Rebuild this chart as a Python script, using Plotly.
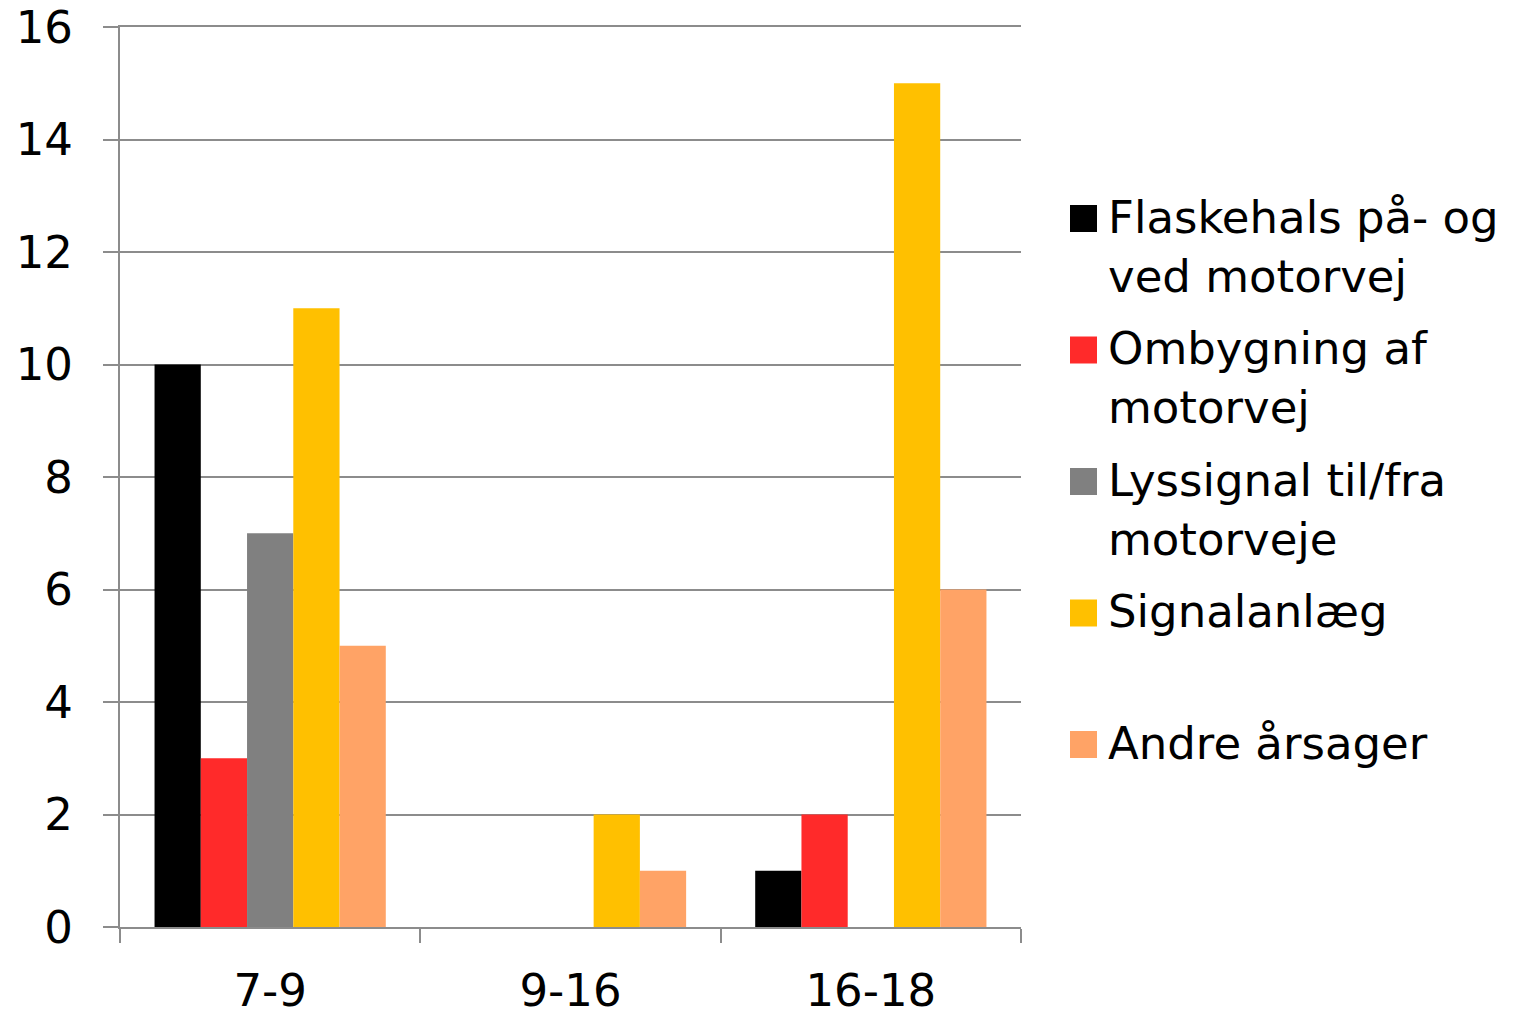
import plotly.graph_objects as go

categories = ["7-9", "9-16", "16-18"]
series_names = ["Flaskehals på- og ved motorvej", "Ombygning af motorvej",
                "Lyssignal til/fra motorveje", "Signalanlæg", "Andre årsager"]
legend_labels = ["Flaskehals på- og<br>ved motorvej", "Ombygning af<br>motorvej",
                 "Lyssignal til/fra<br>motorveje", "Signalanlæg", "Andre årsager"]
flaskehals = [10, 0, 1]
ombygning = [3, 0, 2]
lyssignal = [7, 0, 0]
signalanlaeg = [11, 2, 15]
andre = [5, 1, 6]
values = [flaskehals, ombygning, lyssignal, signalanlaeg, andre]
colors = ["#000000", "#FF2A2A", "#808080", "#FFC000", "#FFA366"]

FONT = "DejaVu Sans, Verdana, sans-serif"
# the page puts the figure 8px in from the top-left corner, so sizes are shifted by that
OFF = 8
W, H = 1534 - OFF, 1010 - OFF
L, R, T, B = 120 - OFF, 513, 27 - OFF, 83
pw, ph = W - L - R, H - T - B

fig = go.Figure()
for name, vals, col in zip(series_names, values, colors):
    fig.add_trace(go.Bar(x=categories, y=vals, name=name, marker_color=col,
                         marker_line_width=0, showlegend=False))

# legend drawn by hand so the swatches can be as big as in the original
def px_x(p):
    return (p - OFF - L) / pw

def px_y(p):
    return (H + OFF - B - p) / ph

shapes = []
annotations = []
for i, (lab, col) in enumerate(zip(legend_labels, colors)):
    cy = 218.5 + i * 131.5
    shapes.append(dict(type="rect", xref="paper", yref="paper",
                       x0=px_x(1070), x1=px_x(1097), y0=px_y(cy + 13.5), y1=px_y(cy - 13.5),
                       fillcolor=col, line_width=0))
    annotations.append(dict(text=lab, xref="paper", yref="paper", x=px_x(1106), y=px_y(cy - 30),
                            xanchor="left", yanchor="top", align="left", showarrow=False,
                            font=dict(family=FONT, size=45, color="#000000")))

fig.update_layout(
    width=W, height=H,
    margin=dict(l=L, r=R, t=T, b=B),
    paper_bgcolor="white", plot_bgcolor="white",
    barmode="group", bargap=0.23, bargroupgap=0,
    shapes=shapes, annotations=annotations,
    font=dict(family=FONT, size=45, color="#000000"),
)
fig.update_xaxes(showline=True, linecolor="#8C8C8C", linewidth=2, mirror=True, automargin=False,
                 ticks="outside", tickson="boundaries", ticklen=14, tickwidth=2, tickcolor="#8C8C8C",
                 ticklabelstandoff=23, ticklabeloverflow="allow", showgrid=False)
fig.update_yaxes(range=[0, 16], dtick=2, showline=True, linecolor="#8C8C8C", linewidth=2,
                 automargin=False,
                 ticks="outside", ticklen=15, tickwidth=2, tickcolor="#8C8C8C",
                 ticklabelstandoff=21, ticklabeloverflow="allow",
                 showgrid=True, gridcolor="#8C8C8C", gridwidth=2, zeroline=False)

fig.write_html("out.html")
